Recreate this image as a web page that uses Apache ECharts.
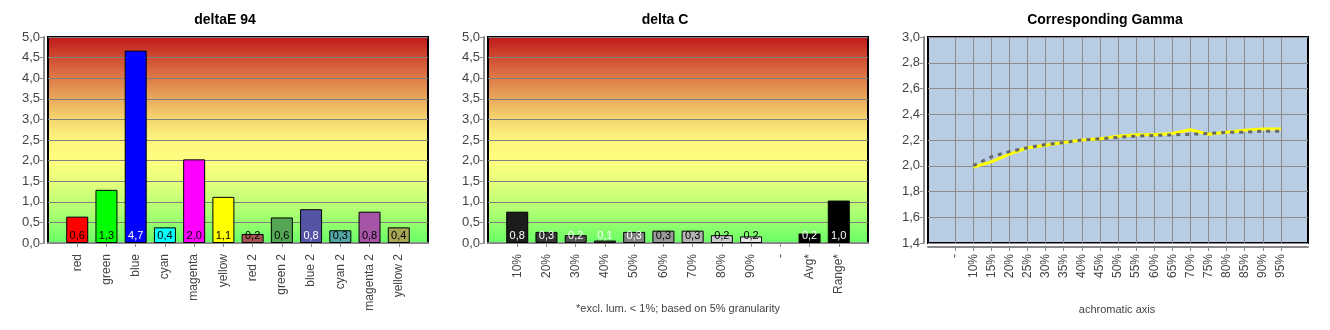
<!DOCTYPE html>
<html><head><meta charset="utf-8">
<script src="https://cdn.jsdelivr.net/npm/echarts@6/dist/echarts.min.js"></script>
<style>html,body{margin:0;padding:0;background:#fff}#c{width:1330px;height:330px}</style>
</head><body><div id="c"></div>
<script>
// ---- data ----
const deltaECategories = ['red','green','blue','cyan','magenta','yellow','red 2','green 2','blue 2','cyan 2','magenta 2','yellow 2'];
const deltaEValues = [0.64,1.29,4.67,0.38,2.03,1.12,0.22,0.62,0.82,0.31,0.76,0.38];
const deltaCCategories = ['10%','20%','30%','40%','50%','60%','70%','80%','90%','-','Avg*','Range*'];
const deltaCValues = [0.76,0.27,0.19,0.06,0.27,0.30,0.30,0.19,0.16,null,0.23,1.03];
const gammaCategories = ['-','10%','15%','20%','25%','30%','35%','40%','45%','50%','55%','60%','65%','70%','75%','80%','85%','90%','95%'];
const gammaMeasured = [null,1.99,2.03,2.09,2.14,2.16,2.18,2.20,2.21,2.23,2.24,2.24,2.25,2.28,2.245,2.26,2.275,2.285,2.285];
const gammaTarget   = [null,2.00,2.07,2.11,2.14,2.165,2.18,2.20,2.21,2.22,2.23,2.235,2.24,2.245,2.25,2.26,2.26,2.268,2.268];
const deltaTicks = [0, 5, 0.5];   // min, max, step
const gammaTicks = [1.4, 3.0, 0.2];

// ---- styles ----
const deltaEColors = ['#ff0000','#00ff00','#0000ff','#00ffff','#ff00ff','#ffff00','#a65454','#54a654','#5454a6','#54a6a6','#a654a6','#a6a654'];
const deltaELabelColors = ['#000','#000','#fff','#000','#000','#000','#000','#000','#fff','#000','#000','#000'];
const deltaCColors = ['#1c1c1c','#333333','#4d4d4d','#666666','#808080','#999999','#b3b3b3','#cccccc','#e6e6e6','#000000','#000000','#000000'];
const deltaCLabelColors = ['#fff','#fff','#fff','#fff','#fff','#000','#000','#000','#000','#fff','#fff','#fff'];

const FONT = '"Liberation Sans", Arial, sans-serif';
const comma = v => v.toFixed(1).replace('.', ',');

const bgGradient = new echarts.graphic.LinearGradient(0, 0, 0, 1, [
  {offset: 0.0, color: '#be161a'},
  {offset: 0.1, color: '#cf4a30'},
  {offset: 0.2, color: '#dd7a48'},
  {offset: 0.3, color: '#e9a85c'},
  {offset: 0.4, color: '#f5d670'},
  {offset: 0.5, color: '#fdf57e'},
  {offset: 0.6, color: '#ffff80'},
  {offset: 0.7, color: '#e6ff7c'},
  {offset: 0.8, color: '#c0ff76'},
  {offset: 0.9, color: '#96ff6e'},
  {offset: 1.0, color: '#66ff66'}
]);

const panels = [0, 440, 880];
const grids = panels.map((ox, i) => ({
  left: ox + 48, top: 37, width: 380, height: 206,
  show: true, borderColor: '#000', borderWidth: 2,
  backgroundColor: i < 2 ? bgGradient : '#b8cce4'
}));

function catAxis(gridIndex, padded, boundaryGap) {
  return {
    type: 'category', gridIndex, data: padded, boundaryGap,
    offset: 4,
    axisLine: {show: true, lineStyle: {color: '#8a8a8a', width: 2}},
    axisTick: {show: true, length: 4, alignWithLabel: true,
      interval: (idx) => padded[idx] !== '', lineStyle: {color: '#8a8a8a'}},
    axisLabel: {interval: 0, rotate: 90, margin: 7, color: '#444', fontFamily: FONT, fontSize: 12},
    splitLine: {show: false}
  };
}
function valAxis(gridIndex, ticks, lineColor) {
  return {
    type: 'value', gridIndex, min: ticks[0], max: ticks[1], interval: ticks[2],
    offset: 4,
    axisLine: {show: true, lineStyle: {color: '#8a8a8a', width: 2}},
    axisTick: {show: true, length: 4, lineStyle: {color: '#8a8a8a'}},
    axisLabel: {formatter: v => comma(v), color: '#444', margin: 4, fontFamily: FONT, fontSize: 13},
    splitLine: {show: true, lineStyle: {color: lineColor, width: 1}}
  };
}

function barSeries(idx, values, colors, labelColors) {
  const data = [{value: '-'}].concat(values.map((v, i) => v == null ? {value: '-'} : ({
    value: v,
    itemStyle: {color: colors[i]},
    label: {color: labelColors[i]}
  }))).concat([{value: '-'}]);
  return {
    type: 'bar', xAxisIndex: idx, yAxisIndex: idx, data, barWidth: 22,
    itemStyle: {borderColor: '#000', borderWidth: 1},
    label: {show: true, position: 'insideBottom', distance: 2, fontFamily: FONT, fontSize: 11,
      formatter: p => (typeof p.value === 'number') ? comma(p.value) : ''},
    animation: false
  };
}

const gammaPadded = [''].concat(gammaCategories).concat(['']);
const pad = arr => [null].concat(arr).concat([null]);

const option = {
  animation: false,
  grid: grids,
  xAxis: [
    catAxis(0, [''].concat(deltaECategories).concat(['']), false),
    catAxis(1, [''].concat(deltaCCategories).concat(['']), false),
    catAxis(2, gammaPadded, true)
  ],
  yAxis: [valAxis(0, deltaTicks, '#808080'), valAxis(1, deltaTicks, '#808080'), valAxis(2, gammaTicks, '#8c8c8c')],
  series: [
    barSeries(0, deltaEValues, deltaEColors, deltaELabelColors),
    barSeries(1, deltaCValues, deltaCColors, deltaCLabelColors),
    {
      type: 'line', xAxisIndex: 2, yAxisIndex: 2, data: [], z: 1,
      markLine: {
        z: 1, silent: true, animation: false, symbol: ['none', 'none'], label: {show: false},
        lineStyle: {color: '#8c8c8c', type: 'solid', width: 1},
        data: gammaCategories.map((c, i) => ({xAxis: i + 1}))
      }
    },
    {
      type: 'line', xAxisIndex: 2, yAxisIndex: 2, data: pad(gammaMeasured), z: 3,
      symbol: 'none', lineStyle: {color: '#ffff00', width: 3}
    },
    {
      type: 'line', xAxisIndex: 2, yAxisIndex: 2, data: pad(gammaTarget), z: 4,
      symbol: 'none', lineStyle: {color: '#666666', width: 3, type: [4, 5]}
    }
  ],
  graphic: [
    {type: 'text', x: 225, y: 20, style: {text: 'deltaE 94', fill: '#000', font: 'bold 14px ' + FONT, textAlign: 'center', textVerticalAlign: 'middle'}},
    {type: 'text', x: 665, y: 20, style: {text: 'delta C', fill: '#000', font: 'bold 14px ' + FONT, textAlign: 'center', textVerticalAlign: 'middle'}},
    {type: 'text', x: 1105, y: 20, style: {text: 'Corresponding Gamma', fill: '#000', font: 'bold 14px ' + FONT, textAlign: 'center', textVerticalAlign: 'middle'}},
    {type: 'text', x: 678, y: 309, style: {text: '*excl. lum. < 1%; based on 5% granularity', fill: '#444', font: '11px ' + FONT, textAlign: 'center', textVerticalAlign: 'middle'}},
    {type: 'text', x: 1117, y: 310, style: {text: 'achromatic axis', fill: '#444', font: '11px ' + FONT, textAlign: 'center', textVerticalAlign: 'middle'}}
  ]
};
const chart = echarts.init(document.getElementById('c'));
chart.setOption(option);
</script>
</body></html>
